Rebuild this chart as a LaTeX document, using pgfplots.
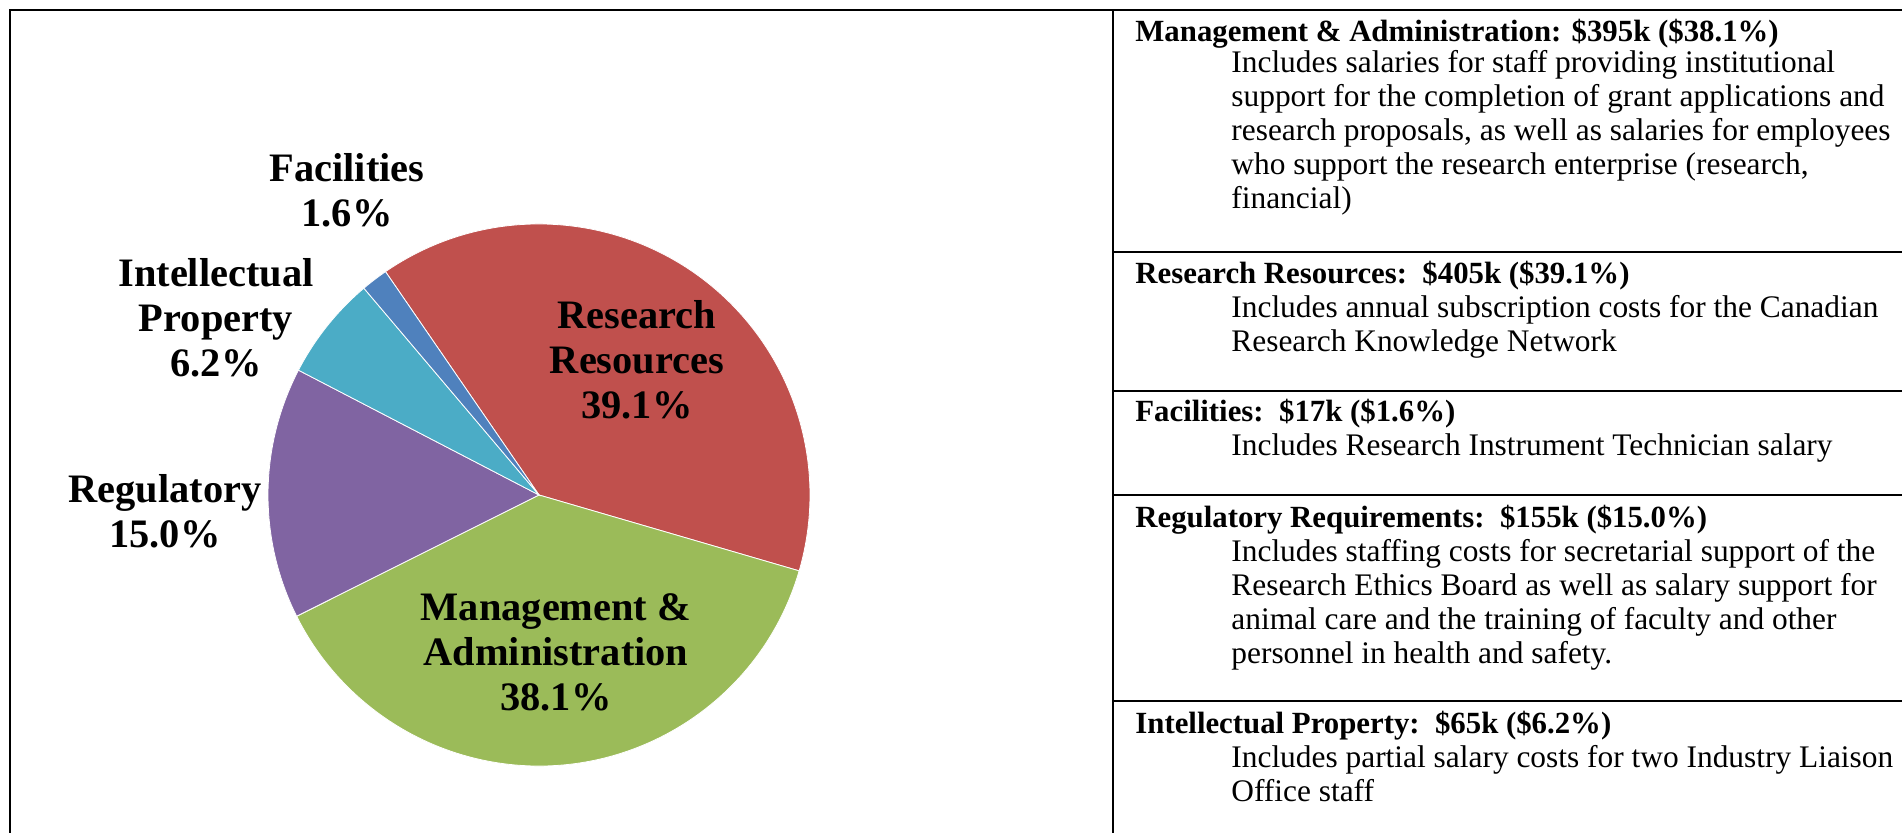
\documentclass[border=0pt]{standalone}
\usepackage{pgfplots}
\pgfplotsset{compat=1.18}
\usepackage{pgfplotstable}
\usepackage{fontspec}
\setmainfont{Liberation Serif}
\definecolor{cRes}{HTML}{C0504D}
\definecolor{cMan}{HTML}{9BBB59}
\definecolor{cReg}{HTML}{8064A2}
\definecolor{cIP}{HTML}{4BACC6}
\definecolor{cFac}{HTML}{4F81BD}

\pgfplotstableread{
name value
Research 39.1
Management 38.1
Regulatory 15.0
IP 6.2
Facilities 1.6
}\piedata

\pgfplotstablegetelem{0}{value}\of\piedata \let\vA\pgfplotsretval
\pgfplotstablegetelem{1}{value}\of\piedata \let\vB\pgfplotsretval
\pgfplotstablegetelem{2}{value}\of\piedata \let\vC\pgfplotsretval
\pgfplotstablegetelem{3}{value}\of\piedata \let\vD\pgfplotsretval
\pgfplotstablegetelem{4}{value}\of\piedata \let\vE\pgfplotsretval
\pgfmathsetmacro\aS{124.5}
\pgfmathsetmacro\aA{\aS-3.6*\vA}
\pgfmathsetmacro\aB{\aA-3.6*\vB}
\pgfmathsetmacro\aC{\aB-3.6*\vC}
\pgfmathsetmacro\aD{\aC-3.6*\vD}
\pgfmathsetmacro\aE{\aD-3.6*\vE}

\newcommand\hdr{\fontsize{15.4}{18}\selectfont\bfseries}
\newcommand\bdy{\fontsize{15.7}{18}\selectfont}
\newcommand\lbl{\fontsize{20.2}{22.5}\selectfont\bfseries}

\begin{document}
\begin{tikzpicture}
\begin{axis}[
  at={(0,0)}, anchor=south west,
  scale only axis, width=951pt, height=416.5pt,
  xmin=0, xmax=1902, ymin=0, ymax=833,
  hide axis, clip=false]
% pie slices
\def\R{135.5pt}
\fill[cRes, draw=white, line width=0.4pt] (axis cs:539,338) -- ++(\aS:\R) arc[start angle=\aS, end angle=\aA, radius=\R] -- cycle;
\fill[cMan, draw=white, line width=0.4pt] (axis cs:539,338) -- ++(\aA:\R) arc[start angle=\aA, end angle=\aB, radius=\R] -- cycle;
\fill[cReg, draw=white, line width=0.4pt] (axis cs:539,338) -- ++(\aB:\R) arc[start angle=\aB, end angle=\aC, radius=\R] -- cycle;
\fill[cIP, draw=white, line width=0.4pt] (axis cs:539,338) -- ++(\aC:\R) arc[start angle=\aC, end angle=\aD, radius=\R] -- cycle;
\fill[cFac, draw=white, line width=0.4pt] (axis cs:539,338) -- ++(\aD:\R) arc[start angle=\aD, end angle=\aE, radius=\R] -- cycle;
% pie labels
\node[align=center, font=\lbl] at (axis cs:347,643) {Facilities\\1.6\%};
\node[align=center, font=\lbl] at (axis cs:216,515) {Intellectual\\Property\\6.2\%};
\node[align=center, font=\lbl] at (axis cs:165,322) {Regulatory\\15.0\%};
\node[align=center, font=\lbl] at (axis cs:637,473) {Research\\Resources\\39.1\%};
\node[align=center, font=\lbl] at (axis cs:556,181) {Management \&\\Administration\\38.1\%};
% frame lines
\draw[line width=1.2pt] (axis cs:10,0) -- (axis cs:10,823) -- (axis cs:1902,823);
\draw[line width=1.2pt] (axis cs:1113,0) -- (axis cs:1113,823);
\draw[line width=1.2pt] (axis cs:1113,581) -- (axis cs:1902,581);
\draw[line width=1.2pt] (axis cs:1113,442) -- (axis cs:1902,442);
\draw[line width=1.2pt] (axis cs:1113,338) -- (axis cs:1902,338);
\draw[line width=1.2pt] (axis cs:1113,132) -- (axis cs:1902,132);
% right column text
\node[anchor=base west, inner sep=0pt, font=\hdr] at (axis cs:1135,791) {Management \& Administration: \$395k (\$38.1\%)};
\node[anchor=base west, inner sep=0pt, font=\bdy] at (axis cs:1231,760) {Includes salaries for staff providing institutional};
\node[anchor=base west, inner sep=0pt, font=\bdy] at (axis cs:1231,726) {support for the completion of grant applications and};
\node[anchor=base west, inner sep=0pt, font=\bdy] at (axis cs:1231,692) {research proposals, as well as salaries for employees};
\node[anchor=base west, inner sep=0pt, font=\bdy] at (axis cs:1231,658) {who support the research enterprise (research,};
\node[anchor=base west, inner sep=0pt, font=\bdy] at (axis cs:1231,624) {financial)};

\node[anchor=base west, inner sep=0pt, font=\hdr] at (axis cs:1135,549) {Research Resources:\ \ \$405k (\$39.1\%)};
\node[anchor=base west, inner sep=0pt, font=\bdy] at (axis cs:1231,515) {Includes annual subscription costs for the Canadian};
\node[anchor=base west, inner sep=0pt, font=\bdy] at (axis cs:1231,481) {Research Knowledge Network};

\node[anchor=base west, inner sep=0pt, font=\hdr] at (axis cs:1135,411) {Facilities:\ \ \$17k (\$1.6\%)};
\node[anchor=base west, inner sep=0pt, font=\bdy] at (axis cs:1231,377) {Includes Research Instrument Technician salary};

\node[anchor=base west, inner sep=0pt, font=\hdr] at (axis cs:1135,305) {Regulatory Requirements:\ \ \$155k (\$15.0\%)};
\node[anchor=base west, inner sep=0pt, font=\bdy] at (axis cs:1231,271) {Includes staffing costs for secretarial support of the};
\node[anchor=base west, inner sep=0pt, font=\bdy] at (axis cs:1231,237) {Research Ethics Board as well as salary support for};
\node[anchor=base west, inner sep=0pt, font=\bdy] at (axis cs:1231,203) {animal care and the training of faculty and other};
\node[anchor=base west, inner sep=0pt, font=\bdy] at (axis cs:1231,169) {personnel in health and safety.};

\node[anchor=base west, inner sep=0pt, font=\hdr] at (axis cs:1135,99) {Intellectual Property:\ \ \$65k (\$6.2\%)};
\node[anchor=base west, inner sep=0pt, font=\bdy] at (axis cs:1231,65) {Includes partial salary costs for two Industry Liaison};
\node[anchor=base west, inner sep=0pt, font=\bdy] at (axis cs:1231,31) {Office staff};
\end{axis}
\pgfresetboundingbox
\path[use as bounding box] (0,0) rectangle (951pt,416.5pt);
\end{tikzpicture}
\end{document}
